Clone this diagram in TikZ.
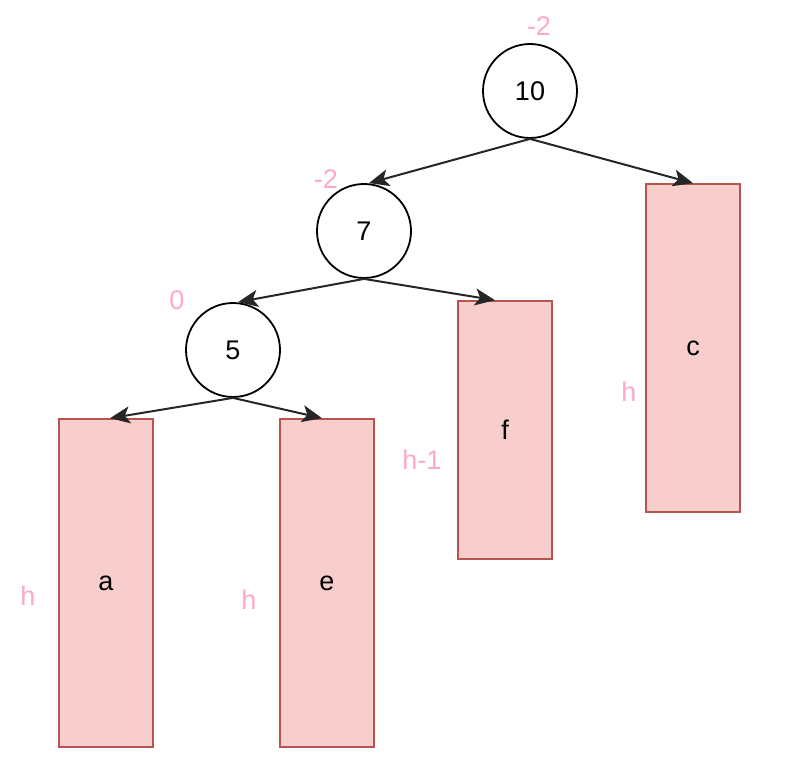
\documentclass[tikz,border=0pt]{standalone}
\usepackage{fontspec}
\setmainfont{Liberation Sans}
\usetikzlibrary{arrows.meta}
\definecolor{subfill}{HTML}{F8CECC}
\definecolor{subline}{HTML}{B85450}
\definecolor{balpink}{HTML}{FFA8C8}
\begin{document}
\begin{tikzpicture}[x=1pt,y=-1pt,
  keynode/.style={circle,draw=black,line width=1.8pt,minimum size=94pt,inner sep=0pt,font=\fontsize{27}{29}\selectfont},
  subtree/.style={rectangle,draw=subline,fill=subfill,line width=1.6pt,minimum width=94pt,inner sep=0pt,font=\fontsize{27}{29}\selectfont},
  balance/.style={text=balpink,font=\fontsize{27}{29}\selectfont,inner sep=0pt},
  link/.style={draw=black!85,line width=2pt,-{Stealth[length=20pt,width=17pt,inset=5pt]}}]
\useasboundingbox (0,0) rectangle (790,770);
% keys
\node[keynode] (n10) at (530,91) {10};
\node[keynode] (n7) at (364,231) {7};
\node[keynode] (n5) at (233,350) {5};
% subtrees
\node[subtree,minimum height=328pt] (c) at (693,348) {c};
\node[subtree,minimum height=258pt] (f) at (505,430) {f};
\node[subtree,minimum height=328pt] (a) at (106,583) {a};
\node[subtree,minimum height=328pt] (e) at (327,583) {e};
% balance factors and heights
\node[balance] (b10) at (539,26) {-2};
\node[balance] (b7) at (326,179) {-2};
\node[balance] (b5) at (177,300) {0};
\node[balance] (ha) at (28,596) {h};
\node[balance] (he) at (249,600) {h};
\node[balance] (hf) at (422,460) {h-1};
\node[balance] (hc) at (629,392) {h};
% edges
\draw[link] (n10.south) -- ([xshift=5pt]n7.north);
\draw[link] (n10.south) -- (c.north);
\draw[link] (n7.south) -- ([xshift=5pt]n5.north);
\draw[link] (n7.south) -- ([xshift=-10pt]f.north);
\draw[link] (n5.south) -- ([xshift=4pt]a.north);
\draw[link] (n5.south) -- ([xshift=-5pt]e.north);
\end{tikzpicture}
\end{document}
